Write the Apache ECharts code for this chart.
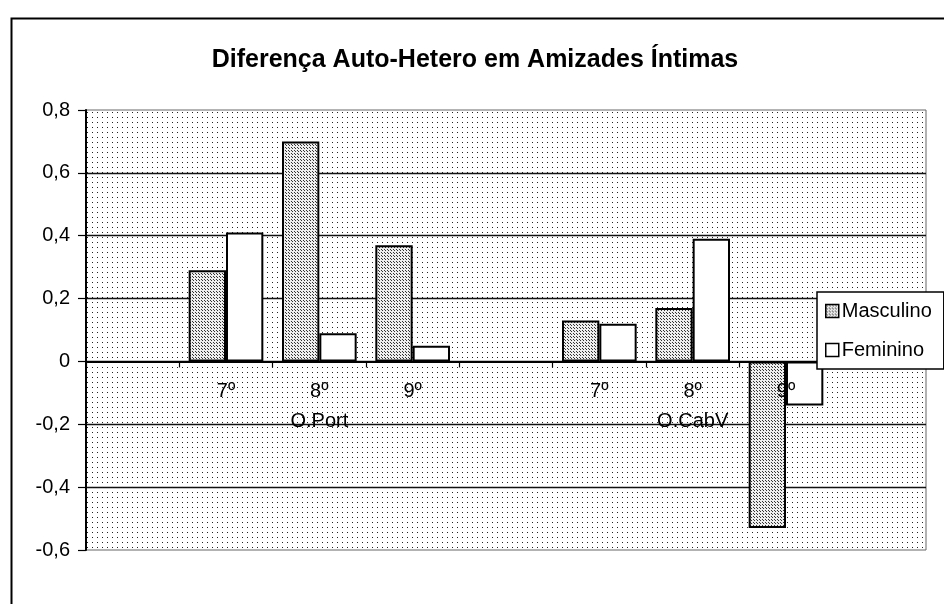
<!DOCTYPE html>
<html>
<head>
<meta charset="utf-8">
<script src="https://cdn.jsdelivr.net/npm/echarts@6/dist/echarts.min.js"></script>
<style>
  html, body { margin: 0; padding: 0; background: #fff; }
  #chart { width: 944px; height: 604px; }
</style>
</head>
<body>
<div id="chart"></div>
<script>
// dados
var categories = ["", "7º", "8º", "9º", "", "7º", "8º", "9º", ""];
var groups = ["", "", "O.Port", "", "", "", "O.CabV", "", ""];
var masculino = [null, 0.29, 0.70, 0.37, null, 0.13, 0.17, -0.53, null];
var feminino = [null, 0.41, 0.09, 0.05, null, 0.12, 0.39, -0.14, null];
var yTicks = [-0.6, -0.4, -0.2, 0, 0.2, 0.4, 0.6, 0.8];

// padrão pontilhado (fundo da área do gráfico e barras)
function makePattern(size, bg, dot, dots) {
    var c = document.createElement("canvas");
    c.width = size; c.height = size;
    var ctx = c.getContext("2d");
    ctx.fillStyle = bg;
    ctx.fillRect(0, 0, size, size);
    ctx.fillStyle = dot;
    dots.forEach(function (d) { ctx.fillRect(d[0], d[1], 1, 1); });
    return { image: c, repeat: "repeat" };
}
var bgPattern = makePattern(5, "#ffffff", "#222", [[2, 2]]);
var mascPattern = makePattern(3, "#eeeeee", "#333", [[1, 1], [0, 0]]);

var fontName = "Liberation Sans, Arial, sans-serif";

var gridTop = 110, gridBottom = 54, chartH = 604;
var yMin = yTicks[0], yMax = yTicks[yTicks.length - 1];
// eixo X desenhado na linha do zero
var plotH = chartH - gridTop - gridBottom;
var zeroOffset = -plotH * (0 - yMin) / (yMax - yMin);

var option = {
    animation: false,
    backgroundColor: "#fff",
    title: {
        text: "Diferença Auto-Hetero em Amizades Íntimas",
        left: 470,
        textAlign: "center",
        top: 43,
        textStyle: { fontFamily: fontName, fontWeight: "bold", fontSize: 25, color: "#000" }
    },
    graphic: [
        {
            type: "rect",
            left: 9, top: 16,
            shape: { width: 960, height: 620 },
            style: { fill: "none", stroke: "#000", lineWidth: 2 },
            z: 100
        }
    ],
    legend: {
        orient: "vertical",
        left: 817,
        top: 292,
        padding: [9, 12, 9, 8],
        itemGap: 19,
        itemWidth: 13,
        itemHeight: 13,
        icon: "rect",
        backgroundColor: "#fff",
        borderColor: "#000",
        borderWidth: 1.5,
        itemStyle: { borderColor: "#000", borderWidth: 1.5 },
        textStyle: { fontFamily: fontName, fontSize: 20, color: "#000", padding: [0, 0, 0, -2] },
        data: ["Masculino", "Feminino"],
        z: 50
    },
    grid: {
        left: 86,
        right: 18,
        top: gridTop,
        bottom: gridBottom,
        outerBoundsMode: "none",
        containLabel: false,
        show: true,
        backgroundColor: bgPattern,
        borderColor: "#666",
        borderWidth: 1
    },
    xAxis: {
        type: "category",
        data: categories,
        z: 20,
        offset: zeroOffset,
        axisLine: { onZero: false, lineStyle: { color: "#000", width: 2 } },
        axisTick: { show: true, length: 6, lineStyle: { color: "#000", width: 1.2 } },
        axisLabel: {
            interval: 0,
            margin: 15,
            lineHeight: 30,
            fontFamily: fontName,
            fontSize: 20,
            color: "#000",
            formatter: function (v, i) {
                return groups[i] ? v + "\n" + groups[i] : v;
            }
        }
    },
    yAxis: {
        type: "value",
        min: yMin,
        max: yMax,
        interval: 0.2,
        axisLine: { show: true, lineStyle: { color: "#000", width: 2 } },
        axisTick: { show: true, length: 8, lineStyle: { color: "#000", width: 1.2 } },
        axisLabel: {
            margin: 16,
            fontFamily: fontName,
            fontSize: 20,
            color: "#000",
            formatter: function (v) {
                var r = Math.round(v * 10) / 10;
                return r === 0 ? "0" : r.toFixed(1).replace(".", ",");
            }
        },
        splitLine: {
            show: true,
            showMinLine: false,
            showMaxLine: false,
            lineStyle: { color: "#111", width: 1.3 }
        }
    },
    series: [
        {
            name: "Masculino",
            type: "bar",
            z: 1,
            data: masculino,
            barGap: "0%",
            barCategoryGap: "20%",
            itemStyle: { color: mascPattern, borderColor: "#000", borderWidth: 2 }
        },
        {
            name: "Feminino",
            type: "bar",
            z: 1,
            data: feminino,
            itemStyle: { color: "#fff", borderColor: "#000", borderWidth: 2 }
        }
    ]
};

var myChart = echarts.init(document.getElementById("chart"));
myChart.setOption(option);
</script>
</body>
</html>
